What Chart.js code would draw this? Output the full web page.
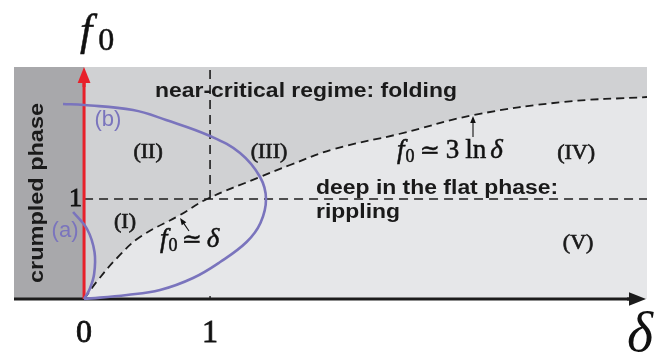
<!DOCTYPE html>
<html><head><meta charset="utf-8">
<script src="https://cdn.jsdelivr.net/npm/chart.js@4"></script>
<style>html,body{margin:0;padding:0;background:#fff}#wrap{width:668px;height:356px}</style>
</head><body><div id="wrap"><canvas id="c" width="668" height="356"></canvas></div>
<script>
// ---- data (delta on x, f0 on y) ----
const deltaRange = [-0.556, 4.468];
const f0Range = [0, 2.32];
const xTicks = [0, 1];
const yTicks = [1];
const crossoverDelta = [0, 0.111, 0.262, 0.444, 0.762, 0.976, 1.397, 1.635, 1.984, 2.5, 3.095, 3.802, 4.468];
const crossoverF0    = [0, 0.19, 0.41, 0.62, 0.84, 1.0, 1.22, 1.34, 1.50, 1.65, 1.84, 1.97, 2.02];
const curveBDelta = [-0.167, 0, 0.389, 0.651, 1.0, 1.238, 1.397, 1.444, 1.40, 1.29, 1.08, 0.865, 0.603, 0.341, 0];
const curveBF0    = [1.95, 1.94, 1.89, 1.79, 1.63, 1.46, 1.22, 1.00, 0.76, 0.57, 0.37, 0.21, 0.09, 0.04, 0];
const curveADelta = [-0.087, 0.024, 0.083, 0.08, 0.045, 0];
const curveAF0    = [0.87, 0.70, 0.47, 0.25, 0.10, 0];
const crumpledEdge = [-0.556, 0];
const flatLineF0 = 1;
const criticalDelta = 1;

const zip = (xs, ys) => xs.map((x, i) => ({x, y: ys[i]}));

const SERIF = '"Liberation Serif","DejaVu Serif",serif';
const SANS = '"Liberation Sans",Arial,sans-serif';
const PURPLE = '#7a74bd';
const DARK = '#1c1c1c';

// text annotations, anchored in data coordinates
const texts = [
  {t:'near-critical regime: folding', x:0.563, y:2.02, font:'bold 20px '+SANS, w:302, align:'left', color:'#1a1a1a'},
  {t:'deep in the flat phase:', x:1.841, y:1.05, font:'bold 20px '+SANS, w:242, align:'left', color:'#1a1a1a'},
  {t:'rippling', x:1.841, y:0.81, font:'bold 20px '+SANS, w:84, align:'left', color:'#1a1a1a'},
  {t:'(I)', x:0.325, y:0.77, font:'22px '+SERIF, align:'center', base:'middle', color:'#1a1a1a', bold:0.7},
  {t:'(II)', x:0.508, y:1.47, font:'22px '+SERIF, align:'center', base:'middle', color:'#1a1a1a', bold:0.7},
  {t:'(III)', x:1.468, y:1.47, font:'22px '+SERIF, align:'center', base:'middle', color:'#1a1a1a', bold:0.7},
  {t:'(IV)', x:3.905, y:1.46, font:'22px '+SERIF, align:'center', base:'middle', color:'#1a1a1a', bold:0.7},
  {t:'(V)', x:3.921, y:0.56, font:'22px '+SERIF, align:'center', base:'middle', color:'#1a1a1a', bold:0.7},
  {t:'(a)', x:-0.151, y:0.68, font:'22px '+SANS, align:'center', base:'middle', color:PURPLE},
  {t:'(b)', x:0.19, y:1.79, font:'22px '+SANS, align:'center', base:'middle', color:PURPLE}
];

const bgPlugin = {
  id:'bg',
  beforeDraw(chart){
    const {ctx, chartArea:a} = chart;
    ctx.save();
    ctx.fillStyle = '#e6e7e9';
    ctx.fillRect(a.left, a.top, a.right-a.left, a.bottom-a.top);
    ctx.restore();
  }
};

function drawPieces(ctx, pieces, x, y){
  let cx = x;
  for (const p of pieces){
    ctx.font = p.font;
    ctx.fillText(p.t, cx, y + (p.dy||0));
    ctx.lineWidth = 0.5; ctx.strokeStyle = ctx.fillStyle;
    ctx.strokeText(p.t, cx, y + (p.dy||0));
    cx += ctx.measureText(p.t).width + (p.gap||0);
  }
}
function arrow(ctx, x1, y1, x2, y2, head, lw, color){
  const ang = Math.atan2(y2-y1, x2-x1);
  ctx.save();
  ctx.strokeStyle = color; ctx.fillStyle = color; ctx.lineWidth = lw;
  ctx.beginPath(); ctx.moveTo(x1,y1);
  ctx.lineTo(x2 - Math.cos(ang)*head*0.8, y2 - Math.sin(ang)*head*0.8); ctx.stroke();
  ctx.beginPath();
  ctx.moveTo(x2, y2);
  ctx.lineTo(x2 - Math.cos(ang)*head + Math.sin(ang)*head*0.4, y2 - Math.sin(ang)*head - Math.cos(ang)*head*0.4);
  ctx.lineTo(x2 - Math.cos(ang)*head - Math.sin(ang)*head*0.4, y2 - Math.sin(ang)*head + Math.cos(ang)*head*0.4);
  ctx.closePath(); ctx.fill();
  ctx.restore();
}

const overlayPlugin = {
  id:'overlay',
  afterDatasetsDraw(chart){
    const {ctx, scales:{x, y}} = chart;
    const X = v => x.getPixelForValue(v), Y = v => y.getPixelForValue(v);
    ctx.save();
    // axis arrowheads
    arrow(ctx, X(0), Y(f0Range[1]) + 20, X(0), Y(f0Range[1]), 16, 3, '#e8202a');
    arrow(ctx, X(deltaRange[1]) - 20, Y(0), X(deltaRange[1]) - 1, Y(0), 17, 3, DARK);
    // texts
    for (const t of texts){
      ctx.fillStyle = t.color;
      ctx.font = t.font;
      ctx.textAlign = t.align;
      ctx.textBaseline = t.base || 'alphabetic';
      if (t.w){
        const w = ctx.measureText(t.t).width;
        ctx.save(); ctx.translate(X(t.x), Y(t.y)); ctx.scale(t.w/w, 1);
        ctx.fillText(t.t, 0, 0); ctx.restore();
      } else {
        ctx.fillText(t.t, X(t.x), Y(t.y));
        if (t.bold){ ctx.lineWidth = t.bold; ctx.strokeStyle = t.color; ctx.strokeText(t.t, X(t.x), Y(t.y)); }
      }
    }
    // crumpled phase (vertical)
    ctx.save();
    ctx.translate(X(-0.373), Y(1.06));
    ctx.rotate(-Math.PI/2);
    ctx.font = 'bold 21px '+SANS; ctx.fillStyle = '#1a1a1a';
    ctx.textAlign = 'center'; ctx.textBaseline = 'middle';
    const cw = ctx.measureText('crumpled phase').width;
    ctx.scale(180/cw, 1);
    ctx.fillText('crumpled phase', 0, 0);
    ctx.restore();
    // math labels
    ctx.textAlign = 'left'; ctx.textBaseline = 'alphabetic'; ctx.fillStyle = '#111';
    drawPieces(ctx, [
      {t:'f', font:'italic 27px '+SERIF, gap:1},
      {t:'0', font:'18px '+SERIF, dy:4, gap:4},
      {t:'\u2243', font:'24px "DejaVu Serif",serif', gap:5},
      {t:'\u03B4', font:'italic 27px '+SERIF}
    ], X(0.603), Y(0.52));
    drawPieces(ctx, [
      {t:'f', font:'italic 27px '+SERIF, gap:1},
      {t:'0', font:'18px '+SERIF, dy:4, gap:5},
      {t:'\u2243', font:'24px "DejaVu Serif",serif', gap:6},
      {t:'3', font:'27px '+SERIF, gap:6},
      {t:'ln', font:'27px '+SERIF, gap:4},
      {t:'\u03B4', font:'italic 27px '+SERIF}
    ], X(2.484), Y(1.41));
    arrow(ctx, X(0.833), Y(0.68), X(0.762), Y(0.81), 7, 1.1, '#111');
    arrow(ctx, X(3.087), Y(1.62), X(3.087), Y(1.83), 7, 1.1, '#111');
    // tick labels
    ctx.fillStyle = '#111'; ctx.strokeStyle = '#111'; ctx.lineWidth = 0.8;
    ctx.font = '32px '+SERIF; ctx.textAlign = 'center';
    for (const v of xTicks){ ctx.fillText(String(v), X(v), Y(0) + 43); ctx.strokeText(String(v), X(v), Y(0) + 43); }
    ctx.font = '26px '+SERIF; ctx.textAlign = 'right';
    for (const v of yTicks){ ctx.fillText(String(v), X(0) - 2, Y(v) + 7); ctx.strokeText(String(v), X(0) - 2, Y(v) + 7); }
    // axis titles
    ctx.textAlign = 'left';
    drawPieces(ctx, [
      {t:'f', font:'italic 44px '+SERIF, gap:6},
      {t:'0', font:'32px '+SERIF, dy:5}
    ], X(0) - 4, 45);
    ctx.font = 'italic 56px '+SERIF;
    ctx.fillText('\u03B4', X(deltaRange[1]) - 20, Y(0) + 52);
    ctx.restore();
  }
};

const line = (data, extra) => Object.assign({data, showLine:true, pointRadius:0, fill:false, borderWidth:2, clip:false}, extra);

new Chart(document.getElementById('c'), {
  type:'scatter',
  data:{datasets:[
    line([{x:crumpledEdge[0], y:f0Range[1]}, {x:crumpledEdge[1], y:f0Range[1]}],
      {fill:'start', backgroundColor:'#a8a8ab', borderWidth:0, order:20, clip:true}),
    line(zip(crossoverDelta, crossoverF0),
      {fill:'end', backgroundColor:'#d0d1d3', borderColor:DARK, borderWidth:1.8, borderDash:[8,5], tension:0.4, order:15, clip:true}),
    line([{x:0, y:flatLineF0}, {x:deltaRange[1], y:flatLineF0}],
      {borderColor:DARK, borderWidth:1.6, borderDash:[9,6], order:8}),
    line([{x:criticalDelta, y:flatLineF0}, {x:criticalDelta, y:f0Range[1]}],
      {borderColor:DARK, borderWidth:1.6, borderDash:[9,6], order:8}),
    line([{x:criticalDelta, y:0}, {x:criticalDelta, y:0.03}],
      {borderColor:DARK, borderWidth:1.4, order:8}),
    line([{x:deltaRange[0], y:0}, {x:deltaRange[1] - 0.1, y:0}],
      {borderColor:DARK, borderWidth:3.2, order:6}),
    line([{x:0, y:0}, {x:0, y:f0Range[1] - 0.1}],
      {borderColor:'#e8202a', borderWidth:3, order:5}),
    line(zip(curveBDelta, curveBF0),
      {borderColor:PURPLE, borderWidth:2.6, tension:0.4, order:2}),
    line(zip(curveADelta, curveAF0),
      {borderColor:PURPLE, borderWidth:2.6, tension:0.4, order:2})
  ]},
  options:{
    responsive:false, animation:false, events:[],
    layout:{padding:{left:14, right:21, top:67, bottom:57}},
    scales:{
      x:{type:'linear', min:deltaRange[0], max:deltaRange[1], display:false},
      y:{type:'linear', min:f0Range[0], max:f0Range[1], display:false}
    },
    plugins:{legend:{display:false}, tooltip:{enabled:false}}
  },
  plugins:[bgPlugin, overlayPlugin]
});
</script></body></html>
